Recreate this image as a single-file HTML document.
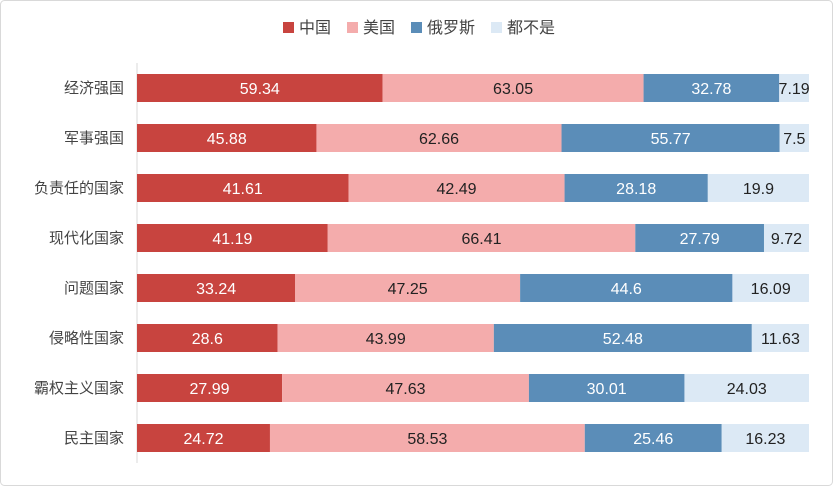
<!DOCTYPE html>
<html><head><meta charset="utf-8"><style>
body{margin:0;background:#fff;}
#wrap{width:833px;height:486px;position:relative;overflow:hidden;}
svg text{font-family:"Liberation Sans","Noto Sans CJK SC",sans-serif;}
</style></head><body>
<div id="wrap">
<svg id="chart" width="833" height="486">
<rect x="0.5" y="0.5" width="832" height="485" rx="4" fill="#fff" stroke="#d9d9d9"/>
</svg>
</div>
<script>
const categories=["经济强国","军事强国","负责任的国家","现代化国家","问题国家","侵略性国家","霸权主义国家","民主国家"];
const seriesNames=["中国","美国","俄罗斯","都不是"];
const china=[59.34,45.88,41.61,41.19,33.24,28.6,27.99,24.72];
const usa=[63.05,62.66,42.49,66.41,47.25,43.99,47.63,58.53];
const russia=[32.78,55.77,28.18,27.79,44.6,52.48,30.01,25.46];
const none=[7.19,7.5,19.9,9.72,16.09,11.63,24.03,16.23];
const series=[china,usa,russia,none];
const colors=["#C8443F","#F4ACAC","#5B8DB8","#DCE9F5"];
const textColors=["#fff","#222","#fff","#222"];
const svg=document.getElementById('chart');
const NS="http://www.w3.org/2000/svg";
const x0=137,x1=809,top0=63,rowH=50,barH=28;
function xs(frac){return x0+frac*(x1-x0);}
function yc(i){return top0+rowH*i+rowH/2;}
function mk(t,a){const e=document.createElementNS(NS,t);for(const k in a)e.setAttribute(k,a[k]);svg.appendChild(e);return e;}
// axis line
const ax=mk('line',{x1:x0,y1:top0,x2:x0,y2:top0+rowH*categories.length,stroke:'#d9d9d9'});


categories.forEach((c,i)=>{
  const t=mk('text',{x:x0-13,y:yc(i)+5,'text-anchor':'end','font-size':15,fill:'#444'});
  t.textContent=c;
  
  
  let total=0;series.forEach(s=>total+=s[i]);
  let acc=0;
  series.forEach((s,j)=>{
    const a=xs(acc/total),b=xs((acc+s[i])/total);
    const r=mk('rect',{x:a,y:yc(i)-barH/2,width:b-a,height:barH,fill:colors[j]});
    
    
    const l=mk('text',{x:(a+b)/2,y:yc(i)+6,'text-anchor':'middle','font-size':16,fill:textColors[j]});
    l.textContent=s[i];
    
    
    acc+=s[i];
  });
});
// legend
let lx=283;
seriesNames.forEach((n,j)=>{
  const r=mk('rect',{x:lx,y:22,width:11,height:11,fill:colors[j]});
  
  
  const t=mk('text',{x:lx+16,y:33,'font-size':16,fill:'#444'});
  t.textContent=n;
  
  
  lx+=16+n.length*16+16;
});
</script>
</body></html>
